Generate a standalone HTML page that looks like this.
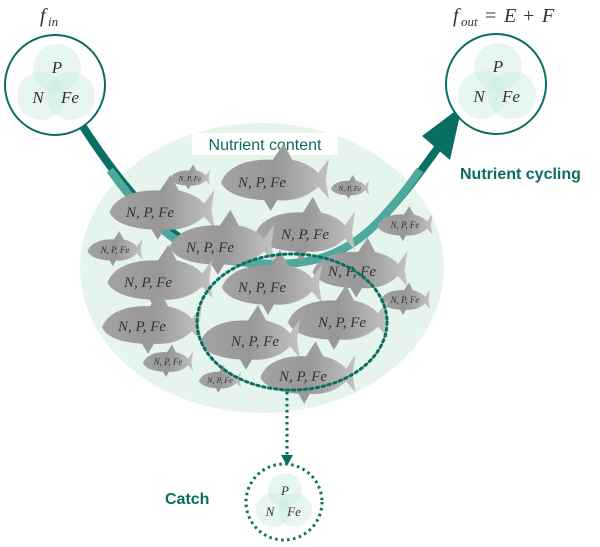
<!DOCTYPE html>
<html><head><meta charset="utf-8"><style>
html,body{margin:0;padding:0;background:#fff}
svg{display:block}
.t{font-family:"Liberation Serif",serif;font-style:italic;fill:#333}
.s{font-family:"Liberation Sans",sans-serif}
</style></head><body>
<svg width="600" height="547" viewBox="0 0 600 547" xmlns="http://www.w3.org/2000/svg">
<defs>
<linearGradient id="g" x1="0" y1="0" x2="1" y2="0">
<stop offset="0" stop-color="#a3a3a3"/><stop offset="0.5" stop-color="#979797"/><stop offset="1" stop-color="#c2c2c2"/>
</linearGradient>
<path id="f" d="M-50,2 C-45,-10 -25,-16 -2,-15 L8,-27 L16,-15 C28,-13 36,-9 40,-5 L50,-16 L47,0 L50,14 L40,5 C30,13 15,16 2,15 L-4,23 L-10,15 C-30,14 -45,10 -50,2 Z" fill="url(#g)"/>
</defs>
<ellipse cx="262" cy="268" rx="182" ry="145" fill="#e5f5ee"/>
<rect x="192" y="133" width="146" height="22" fill="#fff"/>
<text x="265" y="150" text-anchor="middle" class="s" font-size="16" fill="#0a6e63">Nutrient content</text>
<path d="M80,122 C130,200 180,255 240,262 C300,268 340,262 380,220 C410,188 425,165 440,145" fill="none" stroke="#0a6e63" stroke-width="8"/>
<path d="M110,170 C150,225 185,258 240,262 C300,268 340,262 380,220 C400,198 412,182 420,170" fill="none" stroke="#4fa89b" stroke-width="8"/>
<polygon points="462,106 450,160 422,136" fill="#0a6e63"/>
<g>
<g transform="translate(190,178) scale(0.4,0.5)"><use href="#f"/></g><text class="t" x="190" y="181" font-size="7" text-anchor="middle">N, P, Fe</text>
<g transform="translate(350,188) scale(0.38,0.48)"><use href="#f"/></g><text class="t" x="350" y="191" font-size="7" text-anchor="middle">N, P, Fe</text>
<g transform="translate(115,250) scale(0.55,0.7)"><use href="#f"/></g><text class="t" x="115" y="253" font-size="9" text-anchor="middle">N, P, Fe</text>
<g transform="translate(405,225) scale(0.55,0.7)"><use href="#f"/></g><text class="t" x="405" y="228" font-size="9" text-anchor="middle">N, P, Fe</text>
<g transform="translate(405,300) scale(0.5,0.65)"><use href="#f"/></g><text class="t" x="405" y="303" font-size="9" text-anchor="middle">N, P, Fe</text>
<g transform="translate(168,362) scale(0.5,0.65)"><use href="#f"/></g><text class="t" x="168" y="365" font-size="9" text-anchor="middle">N, P, Fe</text>
<g transform="translate(220,380) scale(0.42,0.55)"><use href="#f"/></g><text class="t" x="220" y="383" font-size="8" text-anchor="middle">N, P, Fe</text>
<g transform="translate(275,180) scale(1.08,1.35)"><use href="#f"/></g><text class="t" x="262" y="187" font-size="15" text-anchor="middle">N, P, Fe</text>
<g transform="translate(162,210) scale(1.05,1.3)"><use href="#f"/></g><text class="t" x="150" y="217" font-size="15" text-anchor="middle">N, P, Fe</text>
<g transform="translate(305,232) scale(1.0,1.3)"><use href="#f"/></g><text class="t" x="305" y="239" font-size="15" text-anchor="middle">N, P, Fe</text>
<g transform="translate(222,245) scale(1.05,1.3)"><use href="#f"/></g><text class="t" x="210" y="252" font-size="15" text-anchor="middle">N, P, Fe</text>
<g transform="translate(360,270) scale(0.95,1.2)"><use href="#f"/></g><text class="t" x="352" y="276" font-size="15" text-anchor="middle">N, P, Fe</text>
<g transform="translate(160,280) scale(1.05,1.3)"><use href="#f"/></g><text class="t" x="148" y="287" font-size="15" text-anchor="middle">N, P, Fe</text>
<g transform="translate(272,285) scale(1.0,1.3)"><use href="#f"/></g><text class="t" x="262" y="292" font-size="15" text-anchor="middle">N, P, Fe</text>
<g transform="translate(152,325) scale(1.0,1.25)"><use href="#f"/></g><text class="t" x="142" y="331" font-size="15" text-anchor="middle">N, P, Fe</text>
<g transform="translate(338,320) scale(1.0,1.3)"><use href="#f"/></g><text class="t" x="342" y="327" font-size="15" text-anchor="middle">N, P, Fe</text>
<g transform="translate(250,340) scale(1.0,1.3)"><use href="#f"/></g><text class="t" x="255" y="346" font-size="15" text-anchor="middle">N, P, Fe</text>
<g transform="translate(308,375) scale(0.95,1.25)"><use href="#f"/></g><text class="t" x="303" y="381" font-size="15" text-anchor="middle">N, P, Fe</text>
</g>
<ellipse cx="292" cy="322" rx="95" ry="68" fill="none" stroke="#0a6e63" stroke-width="3" stroke-dasharray="2.5 3.5" stroke-linecap="round"/>
<line x1="287" y1="392" x2="287" y2="455" stroke="#0a6e63" stroke-width="3" stroke-dasharray="2.5 3.5"/>
<polygon points="281,455 293,455 287,466" fill="#0a6e63"/>
<text class="t" x="40" y="22" font-size="20">f</text><text class="t" x="48" y="26" font-size="13">in</text>
<circle cx="55" cy="85" r="50" fill="#fff" stroke="#0a6e63" stroke-width="2"/>
<g fill="#c9ecde" fill-opacity="0.45"><circle cx="57" cy="68" r="24"/><circle cx="41" cy="96" r="24"/><circle cx="71" cy="96" r="24"/></g>
<text class="t" x="57" y="73" font-size="17" text-anchor="middle">P</text>
<text class="t" x="38" y="103" font-size="17" text-anchor="middle">N</text>
<text class="t" x="70" y="103" font-size="17" text-anchor="middle">Fe</text>
<text class="t" x="453" y="22" font-size="20">f</text><text class="t" x="461" y="26" font-size="13">out</text>
<text class="t" x="485" y="22" font-size="20" style="font-style:normal">=</text>
<text class="t" x="504" y="22" font-size="20">E</text>
<text class="t" x="523" y="22" font-size="20" style="font-style:normal">+</text>
<text class="t" x="542" y="22" font-size="20">F</text>
<circle cx="496" cy="84" r="50" fill="#fff" stroke="#0a6e63" stroke-width="2"/>
<g fill="#c9ecde" fill-opacity="0.45"><circle cx="498" cy="67" r="24"/><circle cx="482" cy="95" r="24"/><circle cx="512" cy="95" r="24"/></g>
<text class="t" x="498" y="72" font-size="17" text-anchor="middle">P</text>
<text class="t" x="479" y="102" font-size="17" text-anchor="middle">N</text>
<text class="t" x="511" y="102" font-size="17" text-anchor="middle">Fe</text>
<text x="460" y="179" class="s" font-size="16" font-weight="bold" fill="#0a6e63">Nutrient cycling</text>
<circle cx="284" cy="502" r="38" fill="#fff" stroke="#0a6e63" stroke-width="3" stroke-dasharray="2.5 3.5"/>
<g fill="#c9ecde" fill-opacity="0.45"><circle cx="285" cy="490" r="17"/><circle cx="273" cy="510" r="17"/><circle cx="295" cy="510" r="17"/></g>
<text class="t" x="285" y="495" font-size="13" text-anchor="middle">P</text>
<text class="t" x="270" y="516" font-size="13" text-anchor="middle">N</text>
<text class="t" x="294" y="516" font-size="13" text-anchor="middle">Fe</text>
<text x="165" y="504" class="s" font-size="16" font-weight="bold" fill="#0a6e63">Catch</text>
</svg>
</body></html>
